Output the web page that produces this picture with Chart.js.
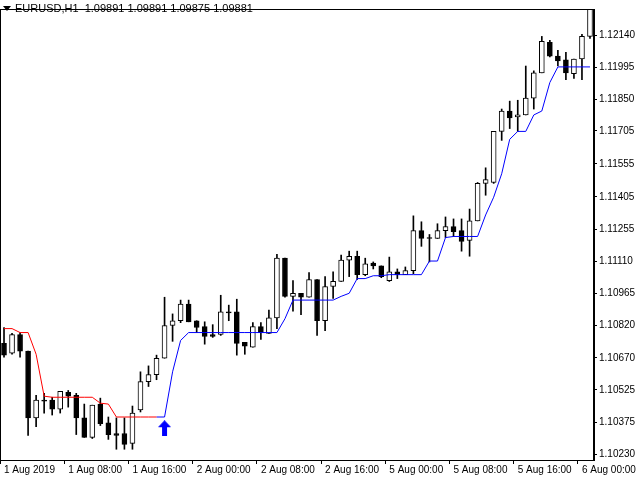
<!DOCTYPE html>
<html><head><meta charset="utf-8">
<script src="https://cdn.jsdelivr.net/npm/chart.js@4/dist/chart.umd.min.js"></script>
<style>html,body{margin:0;padding:0;background:#fff;overflow:hidden}#wrap{width:640px;height:480px;overflow:hidden;position:relative}#c{position:absolute;left:-9px;top:0}</style>
</head><body><div id="wrap"><canvas id="c" width="649" height="480"></canvas></div>
<script>
const opens=[1.10737,1.10692,1.10777,1.10701,1.10397,1.10478,1.10478,1.10437,1.10514,1.10500,1.10397,1.10308,1.10460,1.10375,1.10326,1.10326,1.10281,1.10433,1.10562,1.10594,1.10669,1.10818,1.10840,1.10916,1.10840,1.10813,1.10777,1.10777,1.10880,1.10880,1.10741,1.10719,1.10813,1.10782,1.10853,1.11125,1.10951,1.10965,1.10947,1.11028,1.10840,1.10996,1.11019,1.11116,1.11134,1.11050,1.11103,1.11090,1.11023,1.11063,1.11050,1.11068,1.11251,1.11219,1.11215,1.11251,1.11269,1.11251,1.11206,1.11295,1.11466,1.11470,1.11703,1.11796,1.11769,1.11778,1.11855,1.11970,1.12109,1.12046,1.12029,1.11966,1.12033,1.12136];
const highs=[1.10809,1.10782,1.10786,1.10701,1.10500,1.10509,1.10491,1.10518,1.10522,1.10509,1.10460,1.10455,1.10487,1.10401,1.10397,1.10397,1.10451,1.10607,1.10634,1.10683,1.10947,1.10871,1.10934,1.10934,1.10840,1.10835,1.10822,1.10956,1.10911,1.10938,1.10741,1.10831,1.10831,1.10889,1.11143,1.11125,1.11023,1.10965,1.11059,1.11028,1.11041,1.11063,1.11139,1.11157,1.11157,1.11125,1.11108,1.11090,1.11130,1.11076,1.11085,1.11318,1.11291,1.11233,1.11282,1.11313,1.11304,1.11304,1.11349,1.11470,1.11537,1.11703,1.11805,1.11841,1.11845,1.12001,1.11979,1.12136,1.12118,1.12073,1.12064,1.12033,1.12145,1.12310];
const lows=[1.10674,1.10687,1.10674,1.10317,1.10357,1.10419,1.10410,1.10419,1.10446,1.10321,1.10308,1.10303,1.10362,1.10299,1.10254,1.10254,1.10254,1.10424,1.10540,1.10571,1.10669,1.10746,1.10831,1.10835,1.10786,1.10733,1.10764,1.10773,1.10840,1.10683,1.10687,1.10719,1.10755,1.10782,1.10804,1.10947,1.10884,1.10867,1.10947,1.10773,1.10795,1.10942,1.11019,1.11041,1.11028,1.11045,1.11076,1.11036,1.11019,1.11032,1.11050,1.11054,1.11179,1.11108,1.11215,1.11219,1.11224,1.11157,1.11134,1.11295,1.11412,1.11466,1.11662,1.11716,1.11703,1.11778,1.11805,1.11970,1.12042,1.12001,1.11939,1.11944,1.11939,1.12127];
const closes=[1.10683,1.10777,1.10701,1.10397,1.10478,1.10473,1.10437,1.10518,1.10496,1.10397,1.10308,1.10455,1.10371,1.10321,1.10317,1.10276,1.10419,1.10562,1.10594,1.10669,1.10818,1.10840,1.10916,1.10835,1.10809,1.10768,1.10768,1.10880,1.10875,1.10737,1.10724,1.10813,1.10786,1.10853,1.11125,1.10951,1.10965,1.10947,1.11028,1.10840,1.10996,1.11019,1.11116,1.11134,1.11050,1.11099,1.11090,1.11041,1.11063,1.11050,1.11068,1.11251,1.11215,1.11215,1.11251,1.11269,1.11246,1.11202,1.11295,1.11466,1.11483,1.11703,1.11796,1.11765,1.11778,1.11855,1.11970,1.12114,1.12046,1.12024,1.11970,1.12033,1.12136,1.12285];
const redLine=[1.10804,1.10804,1.10786,1.10786,1.10687,1.10496,1.10491,1.10491,1.10491,1.10491,1.10491,1.10491,1.10464,1.10460,1.10401,1.10401,1.10401,1.10401,1.10401,1.10401];
const blueLine=[null,null,null,null,null,null,null,null,null,null,null,null,null,null,null,null,null,null,null,1.10401,1.10401,1.10607,1.10750,1.10786,1.10786,1.10786,1.10786,1.10786,1.10786,1.10786,1.10786,1.10786,1.10786,1.10786,1.10786,1.10849,1.10934,1.10934,1.10934,1.10934,1.10934,1.10934,1.10951,1.10965,1.11032,1.11032,1.11045,1.11045,1.11050,1.11050,1.11050,1.11050,1.11050,1.11112,1.11112,1.11219,1.11224,1.11224,1.11224,1.11224,1.11322,1.11403,1.11510,1.11667,1.11703,1.11703,1.11778,1.11796,1.11926,1.11997,1.11997,1.11997,1.11997,1.11997];
const arrowIndex=20, arrowPrice=1.10350;
const days=["1 Aug","2 Aug","5 Aug","6 Aug"];
const dayHours=[24,24,24,2];
const tickLabels=["1 Aug 2019","1 Aug 08:00","1 Aug 16:00","2 Aug 00:00","2 Aug 08:00","2 Aug 16:00","5 Aug 00:00","5 Aug 08:00","5 Aug 16:00","6 Aug 00:00"];
const yTicks=[1.12140,1.11995,1.11850,1.11705,1.11555,1.11405,1.11255,1.11110,1.10965,1.10820,1.10670,1.10525,1.10375,1.10230];
const header="EURUSD,H1  1.09891 1.09891 1.09875 1.09881";

const categories=[];
days.forEach((d,k)=>{for(let h=0;h<dayHours[k];h++)categories.push(d+" "+String(h).padStart(2,"0")+":00");});
const bodies=opens.map((o,i)=>{let c=closes[i];if(Math.abs(c-o)<0.00003){c=o+(c>=o?0.00003:-0.00003);}return [o,c];});
const wicks=lows.map((l,i)=>[l,highs[i]]);
const bodyFill=opens.map((o,i)=>closes[i]>=o?"#ffffff":"#000000");
const redData=categories.map((_,i)=>i<redLine.length?redLine[i]:null);
const arrowData=categories.map((_,i)=>i===arrowIndex?arrowPrice:null);

const arrowImg=document.createElement("canvas");arrowImg.width=13;arrowImg.height=16;
(()=>{const g=arrowImg.getContext("2d");g.fillStyle="#0000ff";g.beginPath();g.moveTo(6.5,0);g.lineTo(13,7);g.lineTo(9,7);g.lineTo(9,16);g.lineTo(4,16);g.lineTo(4,7);g.lineTo(0,7);g.closePath();g.fill();})();

const frame={id:"frame",afterDraw(ch){const a=ch.chartArea,g=ch.ctx;g.save();g.strokeStyle="#000";g.lineWidth=1;g.strokeRect(a.left+0.5,a.top+0.5,a.right-a.left-1,a.bottom-a.top);
const x0=a.left+3;
g.fillStyle="#000";g.beginPath();g.moveTo(x0,6);g.lineTo(x0+8,6);g.lineTo(x0+4,11);g.closePath();g.fill();
g.font="11px 'Liberation Sans', Arial, sans-serif";g.textBaseline="middle";g.fillText(header,x0+12,9);g.restore();}};

new Chart(document.getElementById("c"),{
 data:{labels:categories,datasets:[
  {type:"bar",data:bodies,backgroundColor:bodyFill,borderColor:"#000",borderWidth:1,borderSkipped:false,barThickness:5,grouped:false,order:1},
  {type:"bar",data:wicks,backgroundColor:"#000",borderWidth:0,barThickness:1,grouped:false,order:3},
  {type:"line",data:redData,borderColor:"#ff0000",borderWidth:1,pointRadius:0,tension:0,order:0},
  {type:"line",data:blueLine,borderColor:"#0000ff",borderWidth:1,pointRadius:0,tension:0,order:0},
  {type:"line",data:arrowData,showLine:false,pointStyle:arrowImg,pointRadius:8,order:0}
 ]},
 options:{responsive:false,animation:false,events:[],
  layout:{padding:{top:1,left:1,right:0,bottom:0}},
  plugins:{legend:{display:false},tooltip:{enabled:false}},
  scales:{
   x:{offset:true,grid:{display:true,drawOnChartArea:false,tickLength:4,color:(c)=>c.index%8===0?"#000":"rgba(0,0,0,0)"},border:{color:"#000"},
      ticks:{autoSkip:false,maxRotation:0,align:"start",padding:0,color:"#000",font:{size:10,family:"'Liberation Sans', Arial"},callback:(v,i)=>i%8===0?tickLabels[i/8]:""},
      afterFit:(s)=>{s.height=20;}},
   y:{position:"right",min:1.10205,max:1.12261,border:{color:"#000"},grid:{display:true,drawOnChartArea:false,tickLength:3,color:"#000"},
      afterBuildTicks:(s)=>{s.ticks=yTicks.map(v=>({value:v}));},
      ticks:{padding:2,color:"#000",font:{size:10,family:"'Liberation Sans', Arial"},callback:(v)=>v.toFixed(5)},
      afterFit:(s)=>{s.width=46;}}
  }},
 plugins:[frame]
});
</script></body></html>
